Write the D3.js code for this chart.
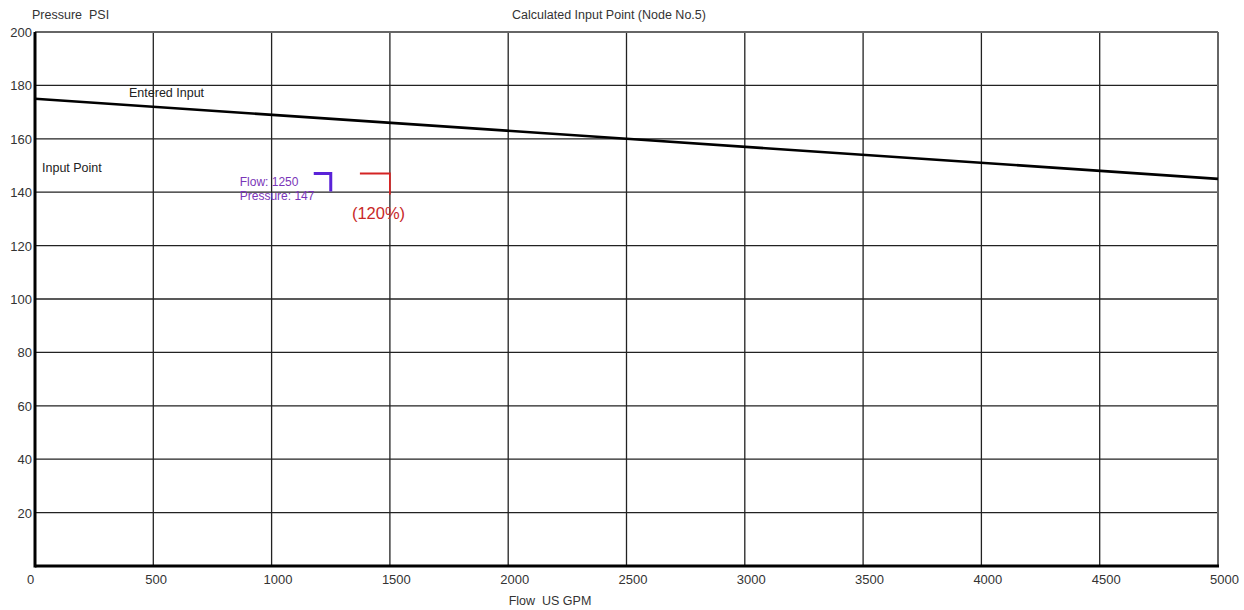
<!DOCTYPE html>
<html><head><meta charset="utf-8">
<script src="https://cdn.jsdelivr.net/npm/d3@7"></script>
<style>body{margin:0;background:#fff;} text{font-family:"Liberation Sans",Arial,sans-serif;}</style>
</head><body>
<svg id="c" width="1244" height="610"></svg>
<script>
const xTicks = [0,500,1000,1500,2000,2500,3000,3500,4000,4500,5000];
const yTicks = [20,40,60,80,100,120,140,160,180,200];
const enteredFlow = [0, 2500, 5000];
const enteredPressure = [175, 160, 145];
const inputFlow = [1250];
const inputPressure = [147];
const pctFlow = [1500];
const pctPressure = [147];
const pctLabel = ["(120%)"];

const svg = d3.select("#c");
const L=35, R=1218, T=32, B=566;
const x = d3.scaleLinear().domain([0,5000]).range([L,R]);
const y = d3.scaleLinear().domain([0,200]).range([B,T]);

// grid
svg.append("g").selectAll("line").data(xTicks.slice(1,-1)).join("line")
  .attr("x1",d=>x(d)).attr("x2",d=>x(d)).attr("y1",T).attr("y2",B)
  .attr("stroke","#222").attr("stroke-width",1.3);
svg.append("g").selectAll("line").data(yTicks.slice(0,-1)).join("line")
  .attr("x1",L).attr("x2",R).attr("y1",d=>y(d)).attr("y2",d=>y(d))
  .attr("stroke","#222").attr("stroke-width",1.3);
// borders
svg.append("line").attr("x1",L).attr("x2",R).attr("y1",T).attr("y2",T).attr("stroke","#666").attr("stroke-width",2);
svg.append("line").attr("x1",R).attr("x2",R).attr("y1",T).attr("y2",B).attr("stroke","#666").attr("stroke-width",2);
svg.append("line").attr("x1",L).attr("x2",R+1).attr("y1",B).attr("y2",B).attr("stroke","#000").attr("stroke-width",3);
svg.append("line").attr("x1",L).attr("x2",L).attr("y1",T).attr("y2",B+1.5).attr("stroke","#000").attr("stroke-width",3);

// tick labels
svg.append("g").selectAll("text").data(xTicks).join("text")
  .attr("x",d=>x(d)-8).attr("y",584).attr("font-size",13).attr("fill","#333").text(d=>d);
svg.append("g").selectAll("text").data(yTicks).join("text")
  .attr("x",32).attr("y",d=>y(d)+5).attr("text-anchor","end").attr("font-size",13).attr("fill","#333").text(d=>d);

// titles
svg.append("text").attr("x",32).attr("y",19).attr("font-size",12.5).attr("fill","#333").text("Pressure  PSI").style("white-space","pre");
svg.append("text").attr("x",609).attr("y",19).attr("text-anchor","middle").attr("font-size",12.5).attr("fill","#333").text("Calculated Input Point (Node No.5)");
svg.append("text").attr("x",550).attr("y",605).attr("text-anchor","middle").attr("font-size",12.5).attr("fill","#333").text("Flow  US GPM").style("white-space","pre");
svg.append("text").attr("x",42).attr("y",172).attr("font-size",12.5).attr("fill","#222").text("Input Point");
svg.append("text").attr("x",129).attr("y",97).attr("font-size",12.5).attr("fill","#222").text("Entered Input");

// entered input line
const line = d3.line().x(d=>x(d[0])).y(d=>y(d[1]));
svg.append("path").datum(enteredFlow.map((f,i)=>[f,enteredPressure[i]]))
  .attr("d",line).attr("fill","none").attr("stroke","#000").attr("stroke-width",2.6);

// input point marker
inputFlow.forEach((f,i)=>{
  const px=x(f), py=y(inputPressure[i]);
  svg.append("path").attr("d",`M${px-17},${py}H${px}V${py+18}`)
    .attr("fill","none").attr("stroke","#5a22d8").attr("stroke-width",3);
  svg.append("text").attr("x",px-91).attr("y",py+12).attr("font-size",12).attr("fill","#7a35b8").text("Flow: "+f);
  svg.append("text").attr("x",px-91).attr("y",py+26).attr("font-size",12).attr("fill","#7a35b8").text("Pressure: "+inputPressure[i]);
});
// 120% marker
pctFlow.forEach((f,i)=>{
  const px=x(f), py=y(pctPressure[i]);
  svg.append("path").attr("d",`M${px-30},${py}H${px}V${py+21}`)
    .attr("fill","none").attr("stroke","#d42424").attr("stroke-width",1.8);
  svg.append("text").attr("x",px-38).attr("y",py+45).attr("font-size",16.5).attr("fill","#c82828").text(pctLabel[i]);
});
</script>
</body></html>
